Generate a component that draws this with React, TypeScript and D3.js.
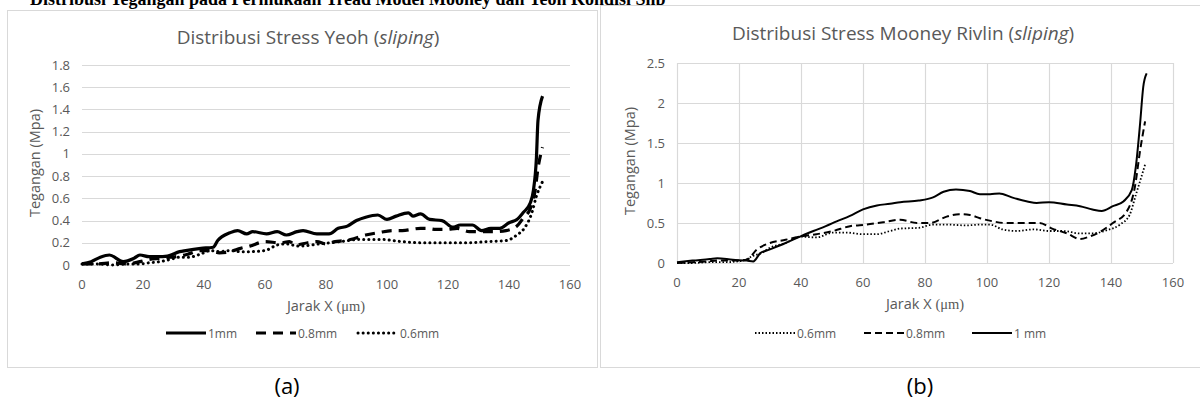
import React from 'react';
import * as d3 from 'd3';

// x axis (shared)
const xTicks = [0, 20, 40, 60, 80, 100, 120, 140, 160];

// (a) Yeoh
const yeohYTicks = [0, 0.2, 0.4, 0.6, 0.8, 1, 1.2, 1.4, 1.6, 1.8];
const yeoh1mmX = [0, 3, 6, 9, 13.5, 17, 19, 22, 25, 28, 32, 34, 39, 43, 44.5, 48.5, 51, 54, 56, 60.5, 64, 67, 70.5, 72.5, 77, 81, 84, 87, 90, 93, 97, 100, 103, 107, 108.5, 111, 114, 118, 121.6, 124, 128, 131, 134, 137, 140, 142.6, 144.6, 147, 148, 149, 149.5, 151];
const yeoh1mm = [0.01, 0.03, 0.07, 0.09, 0.03, 0.06, 0.09, 0.075, 0.075, 0.08, 0.12, 0.13, 0.15, 0.16, 0.22, 0.29, 0.31, 0.28, 0.3, 0.28, 0.3, 0.27, 0.3, 0.31, 0.28, 0.28, 0.33, 0.35, 0.4, 0.43, 0.45, 0.41, 0.44, 0.47, 0.44, 0.46, 0.41, 0.4, 0.34, 0.36, 0.36, 0.31, 0.33, 0.33, 0.38, 0.41, 0.47, 0.56, 0.67, 0.97, 1.3, 1.52];
const yeoh08X = [0, 5, 10, 15, 19, 22, 25.5, 29, 32, 35, 38.7, 42, 45, 48.5, 52, 55, 60, 65, 68, 70, 74, 77, 80, 83, 86, 88, 93, 97, 102, 105, 111, 113, 116, 119.6, 123, 127, 130.5, 135, 139, 142.6, 144.6, 147, 148.5, 149.5, 151];
const yeoh08 = [0.01, 0.01, 0.02, 0.01, 0.03, 0.05, 0.06, 0.07, 0.08, 0.1, 0.13, 0.13, 0.11, 0.12, 0.15, 0.17, 0.21, 0.2, 0.21, 0.18, 0.2, 0.21, 0.19, 0.21, 0.22, 0.23, 0.27, 0.29, 0.31, 0.31, 0.33, 0.33, 0.32, 0.32, 0.33, 0.3, 0.3, 0.3, 0.31, 0.35, 0.42, 0.51, 0.66, 0.87, 1.06];
const yeoh06X = [0, 5, 10, 15, 19, 22, 25.5, 29, 32, 35, 39, 42, 45, 48.5, 52, 55, 60, 64, 67, 71, 78, 84.6, 91, 98, 105, 111, 119.6, 126, 132.8, 139, 142.6, 145, 147.5, 149, 151];
const yeoh06 = [0.01, 0.01, 0, 0.01, 0.01, 0.02, 0.03, 0.05, 0.07, 0.07, 0.1, 0.13, 0.12, 0.13, 0.12, 0.12, 0.13, 0.18, 0.19, 0.17, 0.19, 0.21, 0.23, 0.23, 0.21, 0.2, 0.2, 0.2, 0.21, 0.22, 0.27, 0.33, 0.47, 0.62, 0.75];

// (b) Mooney Rivlin
const mooneyYTicks = [0, 0.5, 1, 1.5, 2, 2.5];
const mooney1mmX = [0, 5, 10.6, 13, 18, 22.5, 24.6, 26.8, 30, 35, 39.7, 44, 48, 51.5, 55.8, 60, 64.5, 68.7, 72, 78, 82.6, 86, 90, 94.5, 97.7, 101, 104, 108, 113, 116, 120, 125.8, 130, 134, 137, 140.6, 144, 146.7, 148, 149.4, 150.4, 151.5];
const mooney1mm = [0.01, 0.03, 0.05, 0.06, 0.04, 0.03, 0.02, 0.12, 0.17, 0.25, 0.33, 0.4, 0.46, 0.52, 0.59, 0.67, 0.72, 0.74, 0.76, 0.78, 0.82, 0.89, 0.92, 0.9, 0.86, 0.86, 0.87, 0.82, 0.77, 0.75, 0.76, 0.73, 0.71, 0.67, 0.65, 0.71, 0.77, 0.91, 1.2, 1.75, 2.2, 2.37];
const mooney08X = [0, 5, 10, 13, 19.6, 22.5, 25.8, 30, 35, 39.7, 45, 50.4, 55.8, 61, 66.5, 72, 77.4, 81.6, 87, 91, 94.5, 97.7, 102, 106, 111.6, 117, 121, 125.8, 130, 133, 136.5, 140.6, 145, 147.7, 149.4, 151];
const mooney08 = [0, 0.01, 0.02, 0.03, 0.03, 0.04, 0.17, 0.25, 0.29, 0.33, 0.36, 0.4, 0.46, 0.48, 0.51, 0.54, 0.5, 0.5, 0.58, 0.61, 0.6, 0.56, 0.52, 0.5, 0.5, 0.5, 0.43, 0.37, 0.3, 0.33, 0.39, 0.5, 0.64, 0.95, 1.41, 1.77];
const mooney06X = [0, 5, 10, 15, 19.6, 22, 24.6, 27, 30, 35, 39.7, 45, 50.4, 54.7, 60, 64.5, 68.7, 72, 78, 82.6, 87, 93.5, 97.7, 101, 105, 109.7, 115, 120, 124.5, 130, 134, 138.7, 142.9, 146, 148, 151];
const mooney06 = [0, 0, 0.01, 0.01, 0.02, 0.04, 0.09, 0.12, 0.19, 0.25, 0.33, 0.32, 0.38, 0.38, 0.36, 0.36, 0.4, 0.43, 0.44, 0.48, 0.48, 0.47, 0.48, 0.48, 0.42, 0.4, 0.42, 0.4, 0.4, 0.37, 0.37, 0.41, 0.48, 0.6, 0.85, 1.23];

const SANS = "'Open Sans', 'Noto Sans', sans-serif";
const GREY = '#595959';
const GRID = '#d9d9d9';

type Series = { name: string; xs: number[]; ys: number[]; width: number; dash?: string; cap?: string };

function Panel(props: {
  box: [number, number, number, number];
  plot: { l: number; r: number; t: number; b: number };
  yTicks: number[];
  vGrid: boolean;
  title: string;
  titleX: number;
  titleY: number;
  series: Series[];
  legendX: number[];
  legendY: number;
  caption: string;
  captionX: number;
}) {
  const { box, plot, yTicks, vGrid, series } = props;
  const x = d3.scaleLinear().domain([0, 160]).range([plot.l, plot.r]);
  const y = d3.scaleLinear().domain([0, d3.max(yTicks) as number]).range([plot.b, plot.t]);
  const line = (s: Series) =>
    d3.line<number>().x((d, i) => x(s.xs[i])).y(d => y(d)).curve(d3.curveMonotoneX)(s.ys) || '';
  const midX = (plot.l + plot.r) / 2;
  return (
    <g>
      <rect x={box[0] + 0.5} y={box[1] + 0.5} width={box[2]} height={box[3]} fill="#fff" stroke={GRID} />
      <text x={props.titleX} y={props.titleY} textAnchor="middle" fontFamily={SANS} fontSize={19} fill={GREY}>
        {props.title} (<tspan fontStyle="italic">sliping</tspan>)
      </text>
      {yTicks.map(t => (
        <g key={'y' + t}>
          <line x1={plot.l} x2={plot.r} y1={Math.round(y(t)) + 0.5} y2={Math.round(y(t)) + 0.5} stroke={GRID} strokeWidth={1.2} />
          <text x={plot.l - 12} y={y(t) + 4.5} textAnchor="end" fontFamily={SANS} fontSize={13} fill={GREY}>{t}</text>
        </g>
      ))}
      {xTicks.map(t => (
        <g key={'x' + t}>
          {vGrid && <line x1={Math.round(x(t)) + 0.5} x2={Math.round(x(t)) + 0.5} y1={plot.t} y2={plot.b} stroke={GRID} strokeWidth={1.2} />}
          <text x={x(t)} y={plot.b + 24} textAnchor="middle" fontFamily={SANS} fontSize={13} fill={GREY}>{t}</text>
        </g>
      ))}
      <text transform={`translate(${plot.l - 42},${(plot.t + plot.b) / 2 - 2}) rotate(-90)`} textAnchor="middle" fontFamily={SANS} fontSize={14.5} fill={GREY}>
        Tegangan  (Mpa)
      </text>
      <text x={midX} y={plot.b + 46} textAnchor="middle" fontFamily={SANS} fontSize={14.5} fill={GREY}>
        Jarak  X <tspan fontFamily="'Liberation Serif', serif">(μm)</tspan>
      </text>
      {series.map(s => (
        <path key={s.name} d={line(s)} fill="none" stroke="#000" strokeWidth={s.width} strokeDasharray={s.dash}
          strokeLinecap={(s.cap as any) || 'butt'} strokeLinejoin="round" />
      ))}
      {series.map((s, i) => (
        <g key={'lg' + s.name}>
          <line x1={props.legendX[i]} x2={props.legendX[i] + 40} y1={props.legendY} y2={props.legendY} stroke="#000"
            strokeWidth={s.width} strokeDasharray={s.dash} strokeLinecap={(s.cap as any) || 'butt'} />
          <text x={props.legendX[i] + 42} y={props.legendY + 4.5} fontFamily={SANS} fontSize={12} fill={GREY}>{s.name}</text>
        </g>
      ))}
      <text x={props.captionX} y={394} textAnchor="middle" fontFamily={SANS} fontSize={22} fill="#000">
        {props.caption}
      </text>
    </g>
  );
}

export default function App() {
  const seriesA: Series[] = [
    { name: '1mm', xs: yeoh1mmX, ys: yeoh1mm, width: 3.2 },
    { name: '0.8mm', xs: yeoh08X, ys: yeoh08, width: 3.2, dash: '10,7' },
    { name: '0.6mm', xs: yeoh06X, ys: yeoh06, width: 3, dash: '0.1,5', cap: 'round' },
  ];
  const seriesB: Series[] = [
    { name: '0.6mm', xs: mooney06X, ys: mooney06, width: 1.8, dash: '1.5,2' },
    { name: '0.8mm', xs: mooney08X, ys: mooney08, width: 2, dash: '7,4' },
    { name: '1 mm', xs: mooney1mmX, ys: mooney1mm, width: 2 },
  ];
  return (
    <div style={{ position: 'absolute', left: 0, top: 0 }}>
      <svg width={1200} height={410} style={{ display: 'block', background: '#fff' }}>
        <text x={30} y={5} fontFamily="'Liberation Serif', serif" fontWeight="bold" fontSize={18} fill="#000">
          Distribusi Tegangan pada Permukaan Tread Model Mooney dan Yeoh Kondisi Slip
        </text>
        <Panel box={[7, 10, 590, 357]} plot={{ l: 82, r: 570, t: 65, b: 265 }} yTicks={yeohYTicks} vGrid={false}
          title="Distribusi Stress Yeoh" titleX={308} titleY={44} series={seriesA}
          legendX={[166, 256, 358]} legendY={333} caption="(a)" captionX={287} />
        <Panel box={[600, 5, 610, 362]} plot={{ l: 677, r: 1173, t: 63, b: 263 }} yTicks={mooneyYTicks} vGrid={true}
          title="Distribusi Stress Mooney Rivlin" titleX={903} titleY={40} series={seriesB}
          legendX={[755, 864, 972]} legendY={333} caption="(b)" captionX={920} />
      </svg>
    </div>
  );
}
